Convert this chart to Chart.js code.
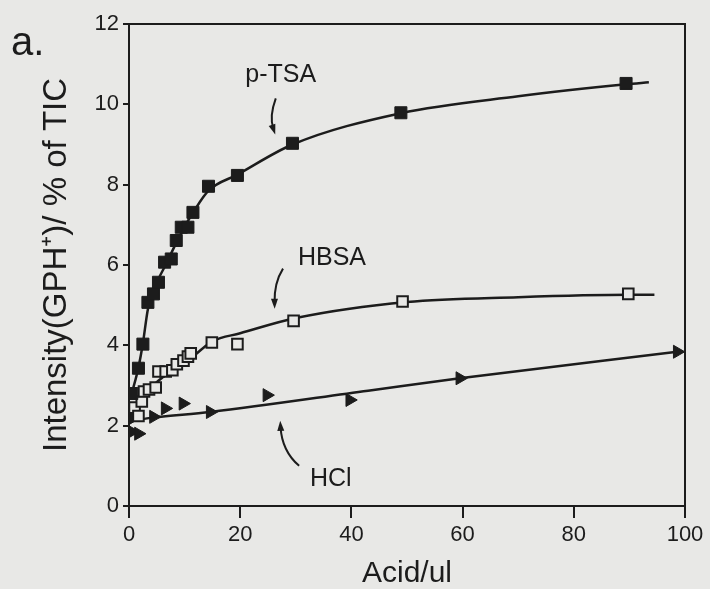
<!DOCTYPE html>
<html>
<head>
<meta charset="utf-8">
<script src="https://cdn.jsdelivr.net/npm/chart.js@4.4.0/dist/chart.umd.min.js"></script>
<style>
html, body { margin: 0; padding: 0; background: #e8e8e6; }
#wrap { position: relative; width: 710px; height: 589px; }
#tag { position: absolute; left: 11px; top: 21px; font: 40px/40px "Liberation Sans", Arial, sans-serif; color: #1c1c1c; }
</style>
</head>
<body>
<div id="wrap">
	<canvas id="graph" width="710" height="589"></canvas>
	<div id="tag">a.</div>
</div>
<script>
const ptsaX = [0.5, 1.7, 2.5, 3.4, 4.4, 5.3, 6.4, 7.6, 8.5, 9.4, 10.6, 11.5, 14.3, 19.5, 29.4, 48.9, 89.4];
const ptsaY = [2.8, 3.43, 4.03, 5.07, 5.28, 5.57, 6.07, 6.15, 6.61, 6.94, 6.94, 7.31, 7.96, 8.23, 9.03, 9.79, 10.52];
const hbsaX = [1.0, 1.7, 2.3, 2.7, 3.6, 4.8, 5.3, 6.6, 7.8, 8.6, 9.8, 10.6, 11.1, 14.9, 19.5, 29.6, 49.2, 89.8];
const hbsaY = [2.45, 2.24, 2.6, 2.85, 2.9, 2.95, 3.35, 3.35, 3.38, 3.53, 3.62, 3.72, 3.8, 4.07, 4.03, 4.61, 5.09, 5.28];
const hclX = [0.5, 1.7, 0.8, 4.4, 6.5, 9.7, 14.6, 24.8, 39.7, 59.5, 98.6];
const hclY = [1.85, 1.8, 2.2, 2.22, 2.43, 2.55, 2.34, 2.76, 2.64, 3.18, 3.84];

// fitted curves
const ptsaFitX = [0.5, 1.7, 2.5, 3.4, 4.4, 5.3, 6.4, 8.5, 10, 11.5, 14.3, 19.5, 29.4, 48.9, 70, 89.4, 93.5];
const ptsaFitY = [2.8, 3.45, 4.05, 4.9, 5.3, 5.65, 5.95, 6.55, 6.95, 7.3, 7.85, 8.25, 9.0, 9.78, 10.2, 10.5, 10.55];
const hbsaFitX = [0.5, 2, 4, 6, 8, 10, 15, 20, 30, 50, 70, 90, 94.5];
const hbsaFitY = [2.2, 2.55, 2.95, 3.2, 3.4, 3.55, 4.1, 4.3, 4.68, 5.08, 5.2, 5.26, 5.26];
const hclFitX = [0.2, 4.4, 14.6, 43, 59.5, 98.6];
const hclFitY = [2.12, 2.2, 2.34, 2.87, 3.18, 3.84];

const xTicks = [0, 20, 40, 60, 80, 100];
const yTicks = [0, 2, 4, 6, 8, 10, 12];

// curve labels and their arrows (data units)
const labels = [
	{text: "p-TSA", x: 27.3, y: 10.72},
	{text: "HBSA", x: 36.5, y: 6.17},
	{text: "HCl", x: 36.3, y: 0.67}
];
const arrows = [
	{from: [26.4, 10.15], ctrl: [25.2, 9.7], to: [26.3, 9.25]},
	{from: [27.7, 5.91], ctrl: [26.1, 5.56], to: [26.2, 4.91]},
	{from: [30.6, 1.0], ctrl: [27.5, 1.37], to: [27.2, 2.12]}
];

const ink = "#1c1c1c";
const paper = "#e8e8e6";
const font = "'Liberation Sans', Arial, sans-serif";

function pairs(xs, ys){
	return xs.map((x, i) => ({x: x, y: ys[i]}));
}

const marks = {
	id: "marks",
	beforeDraw(chart){
		let ctx = chart.ctx;
		ctx.save();
		ctx.fillStyle = paper;
		ctx.fillRect(0, 0, chart.width, chart.height);
		ctx.restore();
	},
	afterDraw(chart){
		let ctx = chart.ctx;
		let xs = chart.scales.x, ys = chart.scales.y;
		let a = chart.chartArea;
		ctx.save();
		ctx.strokeStyle = ink;
		ctx.lineWidth = 2;
		ctx.beginPath();
		ctx.moveTo(a.left, a.top);
		ctx.lineTo(a.right, a.top);
		ctx.lineTo(a.right, a.bottom);
		ctx.stroke();

		ctx.fillStyle = ink;
		ctx.font = "25px " + font;
		ctx.textAlign = "center";
		ctx.textBaseline = "middle";
		for(let l of labels)
			ctx.fillText(l.text, xs.getPixelForValue(l.x), ys.getPixelForValue(l.y));

		ctx.lineWidth = 2;
		for(let ar of arrows){
			let p0 = [xs.getPixelForValue(ar.from[0]), ys.getPixelForValue(ar.from[1])];
			let pc = [xs.getPixelForValue(ar.ctrl[0]), ys.getPixelForValue(ar.ctrl[1])];
			let p1 = [xs.getPixelForValue(ar.to[0]), ys.getPixelForValue(ar.to[1])];
			let ang = Math.atan2(p1[1] - pc[1], p1[0] - pc[0]);
			let back = [p1[0] - 6 * Math.cos(ang), p1[1] - 6 * Math.sin(ang)];
			ctx.beginPath();
			ctx.moveTo(p0[0], p0[1]);
			ctx.quadraticCurveTo(pc[0], pc[1], back[0], back[1]);
			ctx.stroke();
			ctx.beginPath();
			ctx.moveTo(p1[0], p1[1]);
			ctx.lineTo(p1[0] - 10 * Math.cos(ang) + 3.5 * Math.sin(ang), p1[1] - 10 * Math.sin(ang) - 3.5 * Math.cos(ang));
			ctx.lineTo(p1[0] - 10 * Math.cos(ang) - 3.5 * Math.sin(ang), p1[1] - 10 * Math.sin(ang) + 3.5 * Math.cos(ang));
			ctx.closePath();
			ctx.fill();
		}
		ctx.restore();
	}
};

let graph = document.getElementById("graph").getContext("2d");
let myChart = new Chart(graph, {
	type: "scatter",
	data: {
		datasets: [{
			label: "p-TSA",
			data: pairs(ptsaX, ptsaY),
			pointStyle: "rect",
			pointRadius: 8.5,
			backgroundColor: ink,
			borderColor: ink,
			borderWidth: 1
		},{
			label: "HBSA",
			data: pairs(hbsaX, hbsaY),
			pointStyle: "rect",
			pointRadius: 7.5,
			backgroundColor: paper,
			borderColor: ink,
			borderWidth: 2
		},{
			label: "HCl",
			data: pairs(hclX, hclY),
			pointStyle: "triangle",
			rotation: 90,
			pointRadius: 7.5,
			backgroundColor: ink,
			borderColor: ink,
			borderWidth: 1
		},{
			label: "p-TSA fit",
			data: pairs(ptsaFitX, ptsaFitY),
			showLine: true,
			pointRadius: 0,
			borderColor: ink,
			borderWidth: 2.5,
			cubicInterpolationMode: "monotone"
		},{
			label: "HBSA fit",
			data: pairs(hbsaFitX, hbsaFitY),
			showLine: true,
			pointRadius: 0,
			borderColor: ink,
			borderWidth: 2.5,
			cubicInterpolationMode: "monotone"
		},{
			label: "HCl fit",
			data: pairs(hclFitX, hclFitY),
			showLine: true,
			pointRadius: 0,
			borderColor: ink,
			borderWidth: 2.5,
			cubicInterpolationMode: "monotone"
		}]
	},
	options: {
		responsive: false,
		animation: false,
		layout: {padding: {left: 0, right: 25, top: 24, bottom: 0}},
		plugins: {
			legend: {display: false},
			tooltip: {enabled: false}
		},
		scales: {
			x: {
				type: "linear",
				min: 0,
				max: 100,
				afterFit: s => { s.height = 83; },
				afterBuildTicks: s => { s.ticks = xTicks.map(v => ({value: v})); },
				border: {color: ink, width: 2},
				grid: {drawOnChartArea: false, drawTicks: true, tickLength: 12, color: ink, lineWidth: 2},
				ticks: {color: ink, font: {family: font, size: 22}, padding: 4, maxRotation: 0},
				title: {display: true, text: "Acid/ul", color: ink, font: {family: font, size: 30, lineHeight: 1}, padding: {top: 0, bottom: 0}}
			},
			y: {
				type: "linear",
				min: 0,
				max: 12,
				afterFit: s => { s.width = 129; },
				afterBuildTicks: s => { s.ticks = yTicks.map(v => ({value: v})); },
				border: {color: ink, width: 2},
				grid: {drawOnChartArea: false, drawTicks: true, tickLength: 6, color: ink, lineWidth: 2},
				ticks: {color: ink, font: {family: font, size: 22}, padding: 4},
				title: {display: true, text: "Intensity(GPH\u207A)/ % of TIC", color: ink, font: {family: font, size: 33, lineHeight: 1}, padding: {top: 40, bottom: 0}}
			}
		}
	},
	plugins: [marks]
});
</script>
</body>
</html>
